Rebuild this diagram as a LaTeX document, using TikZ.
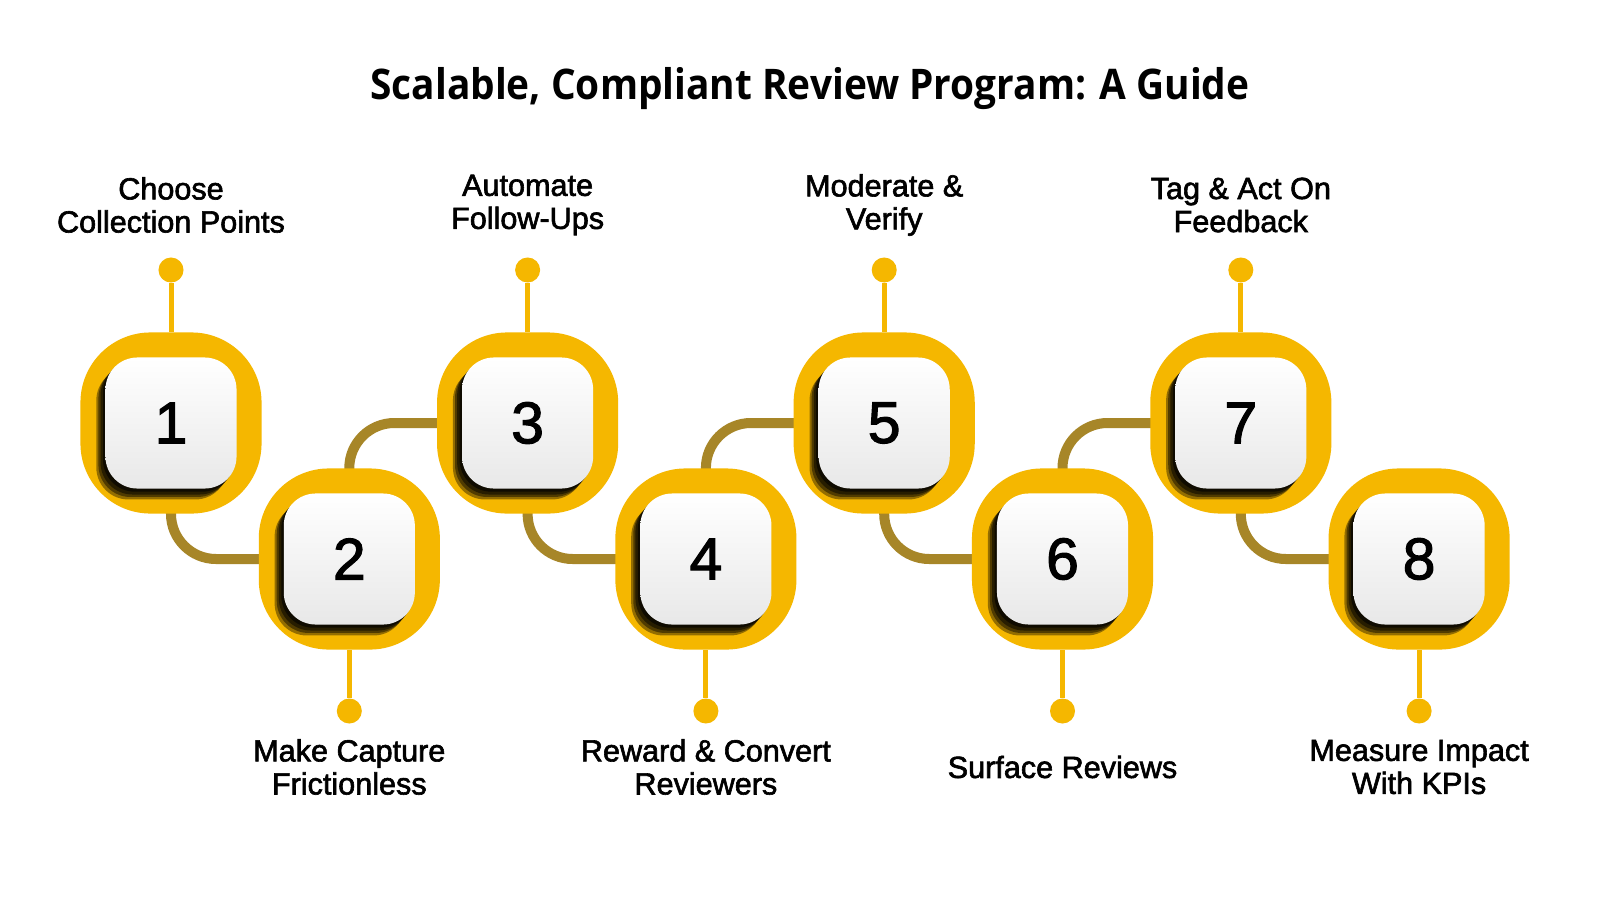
\documentclass[tikz,border=0pt]{standalone}
\usepackage{fontspec}
\setmainfont{Liberation Sans}
\newfontfamily\stepfont{Liberation Sans}[FakeBold=2]
\newfontfamily\titlefont{Open Sans}[FakeStretch=0.92]
\usetikzlibrary{positioning}
\definecolor{gold}{HTML}{F5B700}
\definecolor{linkgold}{HTML}{A78628}
\pgfdeclarelayer{bg}
\pgfsetlayers{bg,main}

\begin{document}
\begin{tikzpicture}[
    x=0.01cm, y=-0.01cm,
    ring/.style={fill=gold, rounded corners=0.7cm, minimum size=1.81cm, inner sep=0pt},
    tile/.style={rounded corners=0.32cm, minimum size=1.31cm, inner sep=0pt,
        top color=white, bottom color=black!9,
        preaction={fill=black, fill opacity=0.4, transform canvas={shift={(-2.6pt,-3.1pt)}}},
        preaction={fill=black, fill opacity=0.45, transform canvas={shift={(-2pt,-2.4pt)}}},
        preaction={fill=black, fill opacity=0.5, transform canvas={shift={(-1.4pt,-1.7pt)}}},
        preaction={fill=black, fill opacity=0.6, transform canvas={shift={(-0.7pt,-0.9pt)}}},
        font=\stepfont\fontsize{16.7}{20}\selectfont},
    pin/.style={circle, fill=gold, minimum size=0.25cm, inner sep=0pt},
    stem/.style={draw=gold, line width=0.05cm},
    link/.style={draw=linkgold, line width=0.1cm, rounded corners=0.45cm},
    steptext/.style={align=center, font=\stepfont\fontsize{8.7}{9.4}\selectfont}
]
\useasboundingbox (0,0) rectangle (1600,900);

\node[font=\titlefont\bfseries\fontsize{12}{14}\selectfont] (title) at (810,89)
    {Scalable, Compliant Review Program: A Guide};

% steps, odd ones up, even ones down
\foreach \n/\tx in {1/{Choose\\Collection Points}, 2/{Make Capture\\Frictionless},
    3/{Automate\\Follow-Ups}, 4/{Reward \& Convert\\Reviewers}, 5/{Moderate \&\\Verify},
    6/{Surface Reviews}, 7/{Tag \& Act On\\Feedback}, 8/{Measure Impact\\With KPIs}}{
    \pgfmathsetmacro{\cx}{171+178.3*(\n-1)}
    \pgfmathsetmacro{\cy}{isodd(\n) ? 423 : 559}
    \pgfmathsetmacro{\dy}{isodd(\n) ? 270 : 711}
    \pgfmathsetmacro{\ly}{isodd(\n) ? 205 : 767}
    \node[ring] (r\n) at (\cx,\cy) {};
    \node[tile] (t\n) at (\cx,\cy) {\n};
    \node[pin] (p\n) at (\cx,\dy) {};
    \node[steptext] (s\n) at (\cx,\ly) {\tx};
    \draw[stem] (r\n) -- (p\n);
}

\begin{pgfonlayer}{bg}
\fill[white] (0,0) rectangle (1600,900);
\foreach \a [evaluate=\a as \b using int(\a+1)] in {1,...,7}
    \draw[link] (r\a.center) |- (r\b.center);
\end{pgfonlayer}
\end{tikzpicture}
\end{document}
